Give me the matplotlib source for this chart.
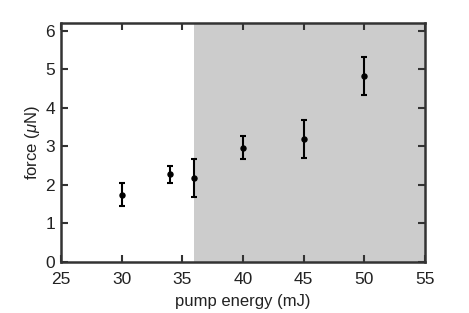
import matplotlib
matplotlib.use("Agg")
import matplotlib.pyplot as plt

energy = [30, 34, 36, 40, 45, 50]
force = [1.74, 2.28, 2.18, 2.96, 3.19, 4.83]
err = [0.30, 0.22, 0.50, 0.30, 0.49, 0.50]
shade_start = 36
xticks = [25, 30, 35, 40, 45, 50, 55]
yticks = [0, 1, 2, 3, 4, 5, 6]

fam = 'Liberation Sans'
plt.rcParams['font.family'] = [fam, 'DejaVu Sans']
plt.rcParams['mathtext.fontset'] = 'custom'
plt.rcParams['mathtext.it'] = fam + ':italic'
plt.rcParams['mathtext.rm'] = fam

fig = plt.figure(figsize=(4.69, 3.13), dpi=100)
ax = fig.add_axes([61/469, 1-262/313, (425-61)/469, (262-23)/313])
ax.axvspan(shade_start, 55, color='#cccccc', lw=0, zorder=0)
ax.errorbar(energy, force, yerr=err, fmt='o', color='black', ms=3.6,
            elinewidth=1.5, capsize=2.2, capthick=1.5, zorder=3)
ax.set_xlim(25, 55)
ax.set_ylim(0, 6.2)
ax.set_xticks(xticks)
ax.set_yticks(yticks)
ax.tick_params(direction='in', top=True, right=True, length=5, width=1.5,
               color='#333333', labelsize=12.5, labelcolor='#222222')
ax.tick_params(axis='x', pad=7.5)
ax.tick_params(axis='y', pad=4.3)
for s in ax.spines.values():
    s.set_linewidth(1.8)
    s.set_color('#333333')
ax.set_xlabel('pump energy (mJ)', fontsize=12, color='#222222', labelpad=5)
ax.set_ylabel(r'force ($\mu$N)', fontsize=12, color='#222222', labelpad=2)
fig.savefig('out.png', dpi=100)
